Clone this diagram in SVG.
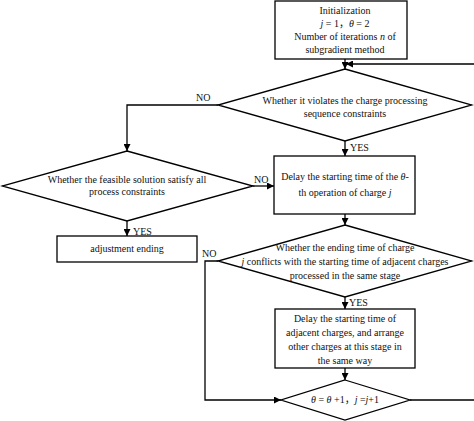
<svg xmlns="http://www.w3.org/2000/svg" width="474" height="421" viewBox="0 0 474 421">
<defs>
<marker id="ah" viewBox="0 0 10 10" refX="10" refY="5" markerWidth="7" markerHeight="7" markerUnits="userSpaceOnUse" orient="auto">
<path d="M0,0 L10,5 L0,10 Z" fill="#000"/>
</marker>
<style>
.s{fill:#fff;stroke:#000;stroke-width:1.3}
.c{fill:none;stroke:#000;stroke-width:1.3;marker-end:url(#ah)}
.l{fill:none;stroke:#000;stroke-width:1.3}
text{font-family:"Liberation Serif","Noto Sans CJK SC",serif;font-size:10px;fill:#111}
.m{text-anchor:middle}
.i{font-style:italic}
</style>
</defs>
<rect width="474" height="421" fill="#fff"/>
<g id="connectors">
<line class="c" x1="345" y1="59" x2="345" y2="69"/>
<path class="c" d="M410,400 H476 V64 H346"/>
<path class="c" d="M218,105 H127 V151"/>
<line class="c" x1="345" y1="141" x2="345" y2="156"/>
<line class="c" x1="253" y1="186" x2="274" y2="186"/>
<line class="c" x1="127" y1="221" x2="127" y2="236"/>
<line class="c" x1="345" y1="214" x2="345" y2="225"/>
<path class="c" d="M218,261 H205 V400 H281"/>
<line class="c" x1="345" y1="297" x2="345" y2="309"/>
<line class="c" x1="345" y1="368" x2="345" y2="380"/>
<text x="196" y="101">NO</text>
<text x="350" y="151">YES</text>
<text x="254" y="183">NO</text>
<text x="133" y="235">YES</text>
<text x="202" y="257">NO</text>
<text x="349" y="306">YES</text>
</g>
<g id="init">
<rect class="s" x="275" y="1" width="132" height="58"/>
<text class="m" x="345" y="14">Initialization</text>
<text class="m" x="345" y="27"><tspan class="i">j</tspan> = 1，<tspan class="i">θ</tspan> = 2</text>
<text class="m" x="345" y="40">Number of iterations <tspan class="i">n</tspan> of</text>
<text class="m" x="345" y="53">subgradient method</text>
</g>
<g id="d1">
<polygon class="s" points="345,69 472,105 345,141 218,105"/>
<text class="m" x="345" y="104">Whether it violates the charge processing</text>
<text class="m" x="345" y="117">sequence constraints</text>
</g>
<g id="d2">
<polygon class="s" points="127,151 253,186 127,221 2,186"/>
<text class="m" x="127" y="183">Whether the feasible solution satisfy all</text>
<text class="m" x="127" y="195">process constraints</text>
</g>
<g id="end">
<rect class="s" x="57" y="236" width="140" height="26"/>
<text class="m" x="127" y="252">adjustment ending</text>
</g>
<g id="delay1">
<rect class="s" x="274" y="156" width="141" height="58"/>
<text class="m" x="345" y="180">Delay the starting time of the <tspan class="i">θ</tspan>-</text>
<text class="m" x="345" y="196">th operation of charge <tspan class="i">j</tspan></text>
</g>
<g id="d3">
<polygon class="s" points="345,225 472,261 345,297 218,261"/>
<text class="m" x="345" y="251">Whether the ending time of charge</text>
<text class="m" x="345" y="265"><tspan class="i">j</tspan> conflicts with the starting time of adjacent charges</text>
<text class="m" x="345" y="279">processed in the same stage</text>
</g>
<g id="delay2">
<rect class="s" x="275" y="309" width="140" height="59"/>
<text class="m" x="345" y="322">Delay the starting time of</text>
<text class="m" x="345" y="336">adjacent charges, and  arrange</text>
<text class="m" x="345" y="350">other charges at this stage in</text>
<text class="m" x="345" y="364">the same way</text>
</g>
<g id="d4">
<polygon class="s" points="345,380 410,400 345,420 281,400"/>
<text class="m" x="345" y="403"><tspan class="i">θ</tspan> = <tspan class="i">θ</tspan> +1，<tspan class="i">j</tspan> =<tspan class="i">j</tspan>+1</text>
</g>
</svg>
